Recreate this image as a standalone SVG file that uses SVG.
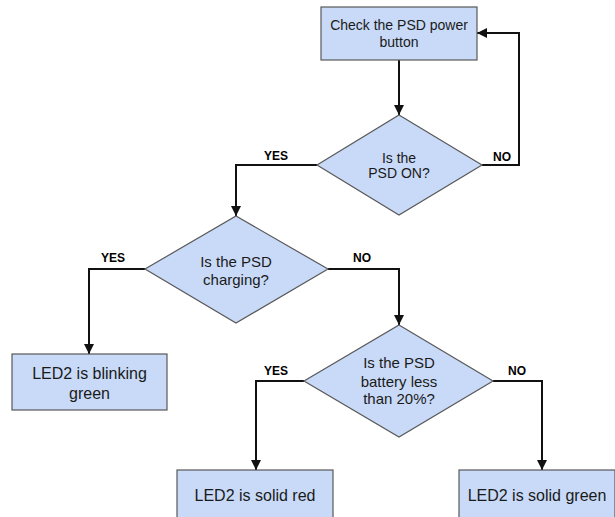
<svg xmlns="http://www.w3.org/2000/svg" width="615" height="517" viewBox="0 0 615 517">
<defs>
<style>
.node{fill:#c9daf8;stroke:#595959;stroke-width:1.2}
.t{font-family:"Liberation Sans",Arial,sans-serif;fill:#1a1a1a;text-anchor:middle}
.lbl{font-family:"Liberation Sans",Arial,sans-serif;font-weight:bold;font-size:12px;fill:#000;text-anchor:middle}
.edge{fill:none;stroke:#111;stroke-width:2}
</style>
<marker id="ah" viewBox="0 0 10 10" refX="10" refY="5" markerWidth="5" markerHeight="5" orient="auto" markerUnits="strokeWidth">
<path d="M0,0 L10,5 L0,10 z" fill="#111"/>
</marker>
</defs>
<rect width="615" height="517" fill="#fff"/>
<g id="connectors">
<path class="edge" marker-end="url(#ah)" d="M399,60 L399,115"/>
<path class="edge" marker-end="url(#ah)" d="M482,165 L519,165 L519,33 L477,33"/>
<path class="edge" marker-end="url(#ah)" d="M317,165 L236,165 L236,216"/>
<path class="edge" marker-end="url(#ah)" d="M145,269 L89,269 L89,354"/>
<path class="edge" marker-end="url(#ah)" d="M328,269 L399,269 L399,325"/>
<path class="edge" marker-end="url(#ah)" d="M304,381 L256,381 L256,470"/>
<path class="edge" marker-end="url(#ah)" d="M493,381 L542,381 L542,470"/>
<text class="lbl" x="502" y="161">NO</text>
<text class="lbl" x="276" y="160">YES</text>
<text class="lbl" x="113" y="262">YES</text>
<text class="lbl" x="362" y="262">NO</text>
<text class="lbl" x="276" y="375">YES</text>
<text class="lbl" x="517" y="375">NO</text>
</g>
<g id="check">
<rect class="node" x="321" y="7" width="156" height="53"/>
<text class="t" font-size="14" x="399" y="30">Check the PSD power</text>
<text class="t" font-size="14" x="399" y="47">button</text>
</g>
<g id="is-on">
<polygon class="node" points="399,115 482,165 399,215 317,165"/>
<text class="t" font-size="14" x="399" y="163">Is the</text>
<text class="t" font-size="14" x="399" y="178">PSD ON?</text>
</g>
<g id="is-charging">
<polygon class="node" points="236,216 328,269 236,323 145,269"/>
<text class="t" font-size="15" x="236" y="267">Is the PSD</text>
<text class="t" font-size="15" x="236" y="285">charging?</text>
</g>
<g id="blinking">
<rect class="node" x="12" y="354" width="155" height="56"/>
<text class="t" font-size="16" x="89.5" y="379">LED2 is blinking</text>
<text class="t" font-size="16" x="89.5" y="399">green</text>
</g>
<g id="battery">
<polygon class="node" points="399,325 493,381 399,437 304,381"/>
<text class="t" font-size="15" x="399" y="368">Is the PSD</text>
<text class="t" font-size="15" x="399" y="387">battery less</text>
<text class="t" font-size="15" x="399" y="404">than 20%?</text>
</g>
<g id="solid-red">
<rect class="node" x="177" y="470" width="156" height="54"/>
<text class="t" font-size="16" x="255" y="501">LED2 is solid red</text>
</g>
<g id="solid-green">
<rect class="node" x="459" y="470" width="156" height="54"/>
<text class="t" font-size="16" x="537" y="501">LED2 is solid green</text>
</g>
</svg>
